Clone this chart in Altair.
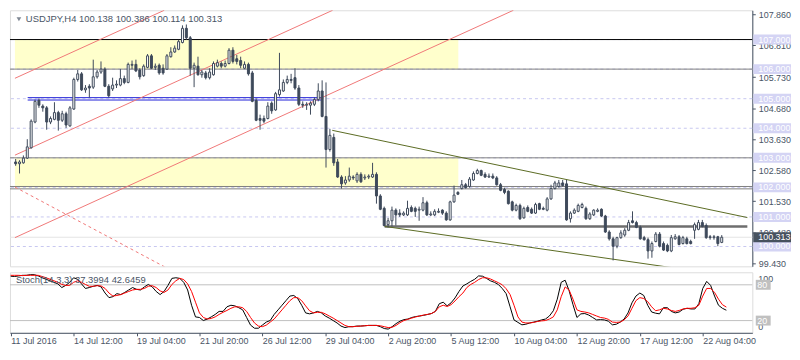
import altair as alt
import pandas as pd

# ---------------- data ----------------
bar_open = [102.86, 102.80, 102.83, 102.99, 103.34, 104.21, 104.94, 104.75, 104.69, 104.21,
 104.30, 104.53, 104.27, 104.49, 104.08, 104.65, 105.65, 105.84, 105.30, 105.42,
 105.39, 105.74, 105.90, 106.00, 105.42, 105.33, 105.46, 105.46, 105.68, 105.55,
 106.13, 106.16, 105.97, 105.78, 106.06, 106.45, 106.06, 106.13, 106.03, 106.00,
 106.42, 106.58, 106.67, 106.90, 107.38, 107.06, 106.03, 106.10, 105.81, 105.87,
 105.71, 105.81, 106.10, 106.19, 106.10, 106.19, 106.64, 106.35, 106.29, 106.03,
 106.16, 105.87, 104.94, 104.33, 104.33, 104.33, 104.85, 104.62, 105.14, 105.26,
 105.55, 105.65, 105.71, 105.36, 104.81, 104.78, 104.78, 104.81, 104.97, 105.26,
 104.40, 103.28, 103.69, 102.86, 102.35, 102.15, 102.25, 102.35, 102.22, 102.44,
 102.32, 102.35, 102.35, 102.44, 101.71, 101.29, 100.74, 100.87, 101.23, 101.13,
 101.07, 101.07, 101.32, 101.29, 101.23, 101.23, 101.48, 101.07, 101.07, 101.16,
 101.23, 101.13, 100.90, 101.51, 101.83, 101.96, 102.09, 102.03, 102.25, 102.47,
 102.57, 102.44, 102.35, 102.38, 102.32, 102.09, 101.93, 101.87, 101.51, 101.23,
 101.39, 100.97, 101.32, 101.26, 101.13, 101.45, 101.29, 101.23, 101.61, 101.96,
 102.03, 102.15, 102.12, 100.94, 101.13, 101.19, 101.32, 101.29, 100.94, 101.07,
 101.19, 101.26, 101.03, 100.49, 100.26, 100.01, 100.30, 100.39, 100.55, 100.87,
 100.81, 100.65, 100.30, 100.23, 99.85, 100.17, 100.42, 100.10, 100.04, 99.85,
 100.26, 100.33, 100.10, 100.26, 100.17, 100.55, 100.58, 100.81, 100.71, 100.33,
 100.30, 100.33, 100.138]

bar_high = [102.96, 102.92, 103.08, 103.63, 104.30, 104.97, 105.01, 104.81, 104.75, 104.40,
 104.88, 104.59, 104.59, 104.56, 104.75, 105.71, 105.97, 105.90, 105.46, 105.49,
 106.32, 105.97, 106.26, 106.06, 105.49, 105.71, 105.62, 106.00, 105.78, 106.22,
 106.29, 106.32, 106.03, 106.16, 106.51, 106.51, 106.19, 106.19, 106.16, 106.51,
 106.74, 106.80, 106.99, 107.48, 107.51, 107.12, 106.22, 106.42, 105.97, 105.94,
 106.03, 106.26, 106.32, 106.26, 106.29, 106.71, 106.74, 106.48, 106.42, 106.26,
 106.22, 105.94, 105.01, 104.46, 104.43, 104.88, 104.91, 105.23, 106.55, 105.65,
 105.78, 105.84, 106.03, 105.46, 104.91, 104.88, 104.91, 105.04, 105.52, 105.62,
 105.55, 103.98, 103.82, 102.96, 102.41, 102.38, 102.67, 102.41, 102.51, 102.51,
 102.44, 102.44, 102.83, 102.51, 101.77, 101.35, 100.97, 101.35, 101.29, 101.26,
 101.19, 101.55, 101.39, 101.35, 101.35, 101.67, 101.55, 101.19, 101.26, 101.29,
 101.26, 101.19, 101.55, 102.06, 101.87, 102.25, 102.15, 102.35, 102.54, 102.63,
 102.60, 102.51, 102.47, 102.47, 102.38, 102.15, 101.99, 101.90, 101.55, 101.45,
 101.45, 101.35, 101.39, 101.32, 101.48, 101.48, 101.35, 101.67, 102.09, 102.22,
 102.25, 102.25, 102.25, 101.19, 101.29, 101.45, 101.48, 101.35, 101.16, 101.26,
 101.29, 101.29, 101.07, 100.55, 100.33, 100.33, 100.55, 100.62, 100.90, 101.19,
 100.87, 100.71, 100.36, 100.30, 100.17, 100.49, 100.49, 100.17, 100.10, 100.39,
 100.42, 100.39, 100.36, 100.33, 100.23, 100.81, 100.90, 100.90, 100.78, 100.39,
 100.39, 100.36, 100.386]

bar_low = [102.73, 102.47, 102.80, 102.96, 103.31, 104.17, 104.69, 104.56, 103.95, 104.14,
 104.27, 103.92, 104.21, 104.01, 104.05, 104.62, 105.58, 105.26, 105.20, 105.04,
 105.33, 105.68, 105.84, 105.39, 105.04, 105.26, 105.36, 105.42, 105.49, 105.52,
 106.00, 105.90, 105.65, 105.74, 106.03, 106.00, 105.97, 105.81, 105.81, 105.97,
 106.39, 106.55, 106.64, 106.87, 106.99, 105.78, 105.39, 105.78, 105.71, 105.65,
 105.65, 105.78, 106.06, 106.03, 106.06, 106.16, 106.19, 106.16, 106.03, 106.00,
 105.78, 104.88, 104.24, 103.95, 104.17, 104.30, 104.49, 104.59, 105.07, 105.23,
 105.49, 105.52, 105.30, 104.75, 104.69, 104.62, 104.46, 104.75, 104.91, 104.37,
 102.67, 103.21, 102.73, 102.32, 101.96, 102.09, 102.19, 102.25, 102.15, 102.15,
 102.25, 102.28, 102.32, 101.45, 101.23, 100.68, 100.65, 100.68, 100.71, 101.00,
 101.03, 101.03, 101.16, 101.00, 100.87, 101.19, 101.03, 101.03, 101.03, 101.13,
 101.07, 100.87, 100.87, 101.48, 101.74, 101.93, 101.96, 101.99, 102.22, 102.44,
 102.38, 102.32, 102.32, 102.28, 102.06, 101.87, 101.77, 101.42, 101.19, 101.19,
 100.90, 100.94, 101.16, 101.10, 101.10, 101.23, 101.23, 101.19, 101.58, 101.93,
 101.99, 102.03, 100.87, 100.81, 101.10, 101.16, 101.29, 100.90, 100.90, 101.03,
 101.16, 101.00, 100.46, 100.20, 99.53, 99.94, 100.26, 100.33, 100.52, 100.78,
 100.62, 100.23, 100.20, 99.59, 99.62, 100.14, 99.97, 99.85, 99.81, 99.81,
 100.23, 100.04, 100.07, 100.07, 100.07, 100.26, 100.55, 100.65, 100.26, 100.23,
 100.23, 100.01, 100.114]

bar_close = [102.80, 102.86, 102.99, 103.37, 104.24, 104.91, 104.78, 104.69, 104.21, 104.33,
 104.53, 104.27, 104.49, 104.11, 104.69, 105.65, 105.84, 105.30, 105.36, 105.36,
 105.74, 105.90, 106.00, 105.42, 105.10, 105.46, 105.49, 105.68, 105.55, 106.16,
 106.16, 105.94, 105.74, 106.10, 106.45, 106.03, 106.10, 105.87, 105.87, 106.45,
 106.58, 106.71, 106.93, 107.38, 107.06, 106.03, 106.13, 105.81, 105.90, 105.71,
 105.90, 106.19, 106.22, 106.10, 106.19, 106.64, 106.26, 106.26, 106.13, 106.16,
 105.84, 104.91, 104.27, 104.27, 104.24, 104.75, 104.59, 105.17, 105.30, 105.55,
 105.65, 105.62, 105.36, 104.81, 104.78, 104.81, 104.85, 104.97, 105.26, 104.40,
 103.28, 103.76, 102.83, 102.35, 102.12, 102.25, 102.38, 102.32, 102.44, 102.19,
 102.35, 102.38, 102.44, 101.71, 101.26, 100.71, 100.87, 101.23, 101.07, 101.07,
 101.13, 101.29, 101.19, 101.19, 101.26, 101.48, 101.07, 101.10, 101.19, 101.19,
 101.13, 100.90, 101.51, 101.74, 101.77, 102.09, 101.99, 102.28, 102.47, 102.57,
 102.41, 102.35, 102.38, 102.32, 102.09, 101.90, 101.83, 101.45, 101.23, 101.39,
 100.94, 101.29, 101.19, 101.13, 101.42, 101.26, 101.26, 101.61, 101.96, 102.15,
 102.15, 102.06, 100.90, 101.13, 101.23, 101.39, 101.42, 100.94, 101.10, 101.23,
 101.23, 101.03, 100.49, 100.26, 100.01, 100.30, 100.46, 100.55, 100.81, 100.81,
 100.65, 100.26, 100.23, 99.85, 100.10, 100.42, 100.01, 99.88, 99.85, 100.30,
 100.33, 100.07, 100.30, 100.10, 100.10, 100.74, 100.81, 100.68, 100.30, 100.30,
 100.33, 100.10, 100.313]

stoch_k = [94.4, 93.9, 94.9, 95.9, 95.9, 97.0, 97.0, 94.9, 91.8, 89.3,
 86.7, 84.2, 81.6, 75.4, 79.0, 84.2, 91.8, 89.3, 81.6, 73.9,
 75.4, 77.5, 79.0, 76.5, 66.2, 58.5, 60.1, 65.2, 63.6, 67.2,
 71.3, 75.4, 72.4, 71.3, 76.5, 80.6, 76.5, 68.8, 63.6, 68.8,
 79.0, 90.8, 91.8, 90.8, 84.2, 71.3, 45.7, 26.2, 25.2, 20.1,
 22.6, 26.2, 30.3, 35.4, 35.4, 43.1, 45.7, 44.7, 41.6, 38.0,
 25.2, 12.4, 7.2, 7.2, 12.4, 17.5, 20.1, 30.3, 38.0, 45.7,
 53.4, 61.1, 62.1, 57.0, 45.7, 32.9, 31.3, 32.9, 35.4, 32.9,
 27.7, 24.2, 20.1, 16.0, 10.8, 8.3, 9.8, 9.8, 10.8, 10.8,
 11.3, 11.9, 11.9, 11.9, 9.8, 6.7, 5.7, 9.8, 14.9, 19.0,
 21.6, 22.6, 25.2, 26.7, 27.7, 28.8, 30.3, 31.8, 35.4, 48.3,
 50.8, 44.7, 49.8, 58.0, 68.8, 78.0, 81.6, 85.7, 89.3, 94.9,
 94.4, 90.8, 86.7, 84.2, 80.6, 73.9, 65.2, 43.1, 21.1, 17.0,
 12.9, 13.9, 16.0, 17.5, 19.0, 21.1, 22.6, 27.7, 36.5, 55.9,
 84.2, 87.7, 70.3, 46.7, 25.2, 31.3, 31.8, 29.3, 25.2, 21.1,
 21.6, 21.1, 19.0, 12.9, 13.9, 17.5, 22.6, 32.9, 49.8, 61.1,
 66.2, 62.1, 45.7, 34.4, 32.4, 31.3, 41.6, 41.6, 35.4, 32.9,
 34.4, 39.0, 40.6, 39.5, 39.5, 48.3, 73.9, 85.7, 79.0, 61.1,
 45.7, 40.6, 37.3994]

stoch_d = [95.9, 95.9, 95.9, 95.4, 95.9, 95.9, 95.9, 95.9, 93.9, 91.8,
 89.3, 86.7, 84.2, 80.6, 79.0, 79.0, 84.2, 86.7, 84.2, 80.6,
 77.5, 77.5, 78.5, 78.0, 73.9, 66.2, 61.1, 62.1, 63.6, 66.2,
 68.8, 71.3, 72.4, 72.4, 73.9, 77.5, 78.5, 75.4, 69.8, 67.2,
 71.3, 80.6, 86.7, 90.8, 88.8, 81.6, 68.8, 50.8, 32.9, 25.2,
 22.6, 23.6, 26.2, 30.3, 33.9, 37.0, 40.6, 43.1, 43.1, 41.6,
 35.4, 25.2, 16.0, 10.8, 9.8, 12.4, 17.5, 22.6, 30.3, 38.0,
 45.7, 53.4, 58.5, 58.5, 53.4, 44.7, 36.5, 32.9, 33.9, 33.9,
 31.3, 27.7, 24.2, 20.1, 16.0, 11.9, 9.8, 9.8, 10.3, 10.8,
 11.3, 11.9, 11.9, 11.9, 11.3, 9.8, 8.3, 8.8, 11.9, 16.5,
 20.1, 22.1, 24.2, 26.2, 27.7, 29.3, 30.3, 31.8, 35.4, 43.1,
 45.7, 43.6, 46.7, 52.9, 60.1, 66.2, 75.4, 80.6, 84.2, 88.8,
 91.8, 91.8, 89.8, 86.7, 83.6, 80.1, 73.4, 63.6, 45.7, 26.2,
 17.5, 16.0, 16.0, 17.0, 18.5, 19.5, 20.1, 22.6, 26.2, 38.0,
 60.1, 76.5, 71.3, 55.9, 38.0, 35.4, 34.4, 32.9, 30.3, 27.7,
 25.2, 24.2, 22.1, 17.5, 17.0, 17.5, 21.1, 27.7, 40.6, 53.4,
 58.5, 57.0, 51.8, 43.1, 36.5, 38.0, 40.6, 39.5, 37.0, 35.4,
 37.0, 39.5, 40.6, 40.6, 41.6, 45.7, 61.1, 73.9, 73.9, 67.2,
 55.9, 46.7, 42.6459]

x_tick_index = [0, 16, 32, 48, 64, 80, 96, 112, 128, 144, 160, 176]
x_tick_labels = ["11 Jul 2016", "14 Jul 12:00", "19 Jul 04:00", "21 Jul 20:00",
                 "26 Jul 12:00", "29 Jul 04:00", "2 Aug 20:00", "5 Aug 12:00",
                 "10 Aug 04:00", "12 Aug 20:00", "17 Aug 12:00", "22 Aug 04:00"]

price_axis_values = [107.86, 106.81, 105.73, 104.68, 103.63, 102.58, 101.53, 100.48, 99.43]
level_prices = [107.0, 106.0, 105.0, 104.0, 103.0, 102.0, 101.0, 100.0]
level_labels = ["107.000", "106.000", "105.000", "104.000", "103.000", "102.000", "101.000", "100.000"]

zone_top = [107.0, 103.0]
zone_bottom = [106.0, 102.0]
zone_start = [-0.18, -0.18]
zone_end = [114.1, 114.1]

solid_prices = [107.0, 106.0, 103.0, 102.03, 101.95]
solid_colors = ["#000000", "#808080", "#808080", "#808080", "#808080"]

support_price = [100.68]
support_start = [95.1]
support_end = [188.6]

blue_prices = [105.035, 104.955]
blue_start = [3.1, 3.1]
blue_end = [78.8, 78.8]

red_id = [1, 1, 2, 2, 3, 3]
red_i = [-0.18, 38.3, -0.18, 81.7, -0.18, 128.3]
red_p = [105.69, 107.99, 103.09, 107.99, 100.30, 107.99]

reddash_i = [-0.18, 40.0]
reddash_p = [102.01, 99.20]

olive_id = [1, 1, 2, 2]
olive_i = [81.6, 188.6, 95.1, 170.0]
olive_p = [103.93, 100.98, 100.68, 99.27]

stoch_levels = [80, 20]

# ---------------- layout / style ----------------
W = 748
H1 = 258
H2 = 61
DARK = "#3e4a5b"
AXC = "#4a5566"
FONT = "Liberation Sans"

xs = alt.Scale(domain=[-0.18, 188.6], nice=False, zero=False)
ys = alt.Scale(domain=[99.33, 107.99], nice=False, zero=False)
ks = alt.Scale(domain=[-0.5, 101], nice=False, zero=False)

MAIN_AXIS = alt.Axis(orient="right", values=price_axis_values, format=".3f", title=None,
                     grid=False, tickSize=3, tickColor=AXC, domainColor=AXC,
                     labelColor=AXC, labelFont=FONT, labelFontSize=9, labelPadding=3)


def X(f):
    return alt.X(f, scale=xs, axis=None)


def Y(f):
    return alt.Y(f, scale=ys, axis=MAIN_AXIS)


n = len(bar_open)
candles = pd.DataFrame({"i": list(range(n)), "o": bar_open, "h": bar_high,
                        "l": bar_low, "c": bar_close})
candles["dir"] = ["up" if c >= o else "down" for o, c in zip(bar_open, bar_close)]

zones = pd.DataFrame({"a": zone_start, "b": zone_end, "t": zone_top, "u": zone_bottom})
levels = pd.DataFrame({"p": level_prices, "lab": level_labels})
solids = pd.DataFrame({"p": solid_prices, "col": solid_colors})
support = pd.DataFrame({"p": support_price, "a": support_start, "b": support_end})
blues = pd.DataFrame({"p": blue_prices, "a": blue_start, "b": blue_end})
reds = pd.DataFrame({"id": red_id, "i": red_i, "p": red_p})
reddash = pd.DataFrame({"i": reddash_i, "p": reddash_p})
olives = pd.DataFrame({"id": olive_id, "i": olive_i, "p": olive_p})
last = pd.DataFrame({"p": [bar_close[-1]], "lab": ["%.3f" % bar_close[-1]]})

header_text = "USDJPY,H4  %.3f %.3f %.3f %.3f" % (bar_open[-1], bar_high[-1], bar_low[-1], bar_close[-1])

zone_layer = alt.Chart(zones).mark_rect(color="#ffffcc").encode(
    x=X("a:Q"), x2="b:Q", y=Y("t:Q"), y2="u:Q")
dash_layer = alt.Chart(levels).mark_rule(color="#c8c8f0", strokeDash=[3, 3], strokeWidth=1).encode(
    y=Y("p:Q"))
solid_layer = alt.Chart(solids).mark_rule(strokeWidth=1).encode(
    y=Y("p:Q"), color=alt.Color("col:N", scale=None))
cur_layer = alt.Chart(last).mark_rule(color="#e4e4e4", strokeWidth=1).encode(y=Y("p:Q"))
support_layer = alt.Chart(support).mark_rule(color="#6e6e6e", strokeWidth=2.5).encode(
    x=X("a:Q"), x2="b:Q", y=Y("p:Q"))
blue_layer = alt.Chart(blues).mark_rule(color="#0a0ad2", strokeWidth=0.9).encode(
    x=X("a:Q"), x2="b:Q", y=Y("p:Q"))
red_layer = alt.Chart(reds).mark_line(color="#f07878", strokeWidth=1, clip=True).encode(
    x=X("i:Q"), y=Y("p:Q"), detail="id:N")
reddash_layer = alt.Chart(reddash).mark_line(color="#f07878", strokeWidth=1, strokeDash=[3, 3], clip=True).encode(
    x=X("i:Q"), y=Y("p:Q"))
olive_layer = alt.Chart(olives).mark_line(color="#5b6b22", strokeWidth=1, clip=True).encode(
    x=X("i:Q"), y=Y("p:Q"), detail="id:N")
wick_layer = alt.Chart(candles).mark_rule(color=DARK, strokeWidth=1).encode(
    x=X("i:Q"), y=Y("l:Q"), y2="h:Q")
body_layer = alt.Chart(candles).mark_bar(size=2, stroke=DARK, strokeWidth=1).encode(
    x=X("i:Q"), y=Y("o:Q"), y2="c:Q",
    fill=alt.Fill("dir:N", scale=alt.Scale(domain=["up", "down"], range=["#ffffff", DARK]), legend=None))
tri_layer = alt.Chart(last).mark_point(shape="triangle-down", filled=True, size=22, color=AXC).encode(
    x=alt.value(9), y=alt.value(9))
head_layer = alt.Chart(last).mark_text(align="left", baseline="middle", font=FONT, fontSize=9.5,
                                       color=AXC, text=header_text).encode(
    x=alt.value(16), y=alt.value(9))
lvl_box = alt.Chart(levels).mark_tick(orient="horizontal", size=38, thickness=10, color="#d4d4f4", opacity=1).encode(
    x=alt.value(W + 20), y=Y("p:Q"))
lvl_txt = alt.Chart(levels).mark_text(align="left", baseline="middle", font=FONT, fontSize=9, color="#ffffff").encode(
    x=alt.value(W + 6), y=Y("p:Q"), text="lab:N")
cur_box = alt.Chart(last).mark_tick(orient="horizontal", size=38, thickness=10, color="#47525f", opacity=1).encode(
    x=alt.value(W + 20), y=Y("p:Q"))
cur_txt = alt.Chart(last).mark_text(align="left", baseline="middle", font=FONT, fontSize=9, color="#ffffff").encode(
    x=alt.value(W + 6), y=Y("p:Q"), text="lab:N")

main = alt.layer(zone_layer, dash_layer, solid_layer, cur_layer, support_layer, blue_layer,
                 red_layer, reddash_layer, olive_layer, wick_layer, body_layer,
                 tri_layer, head_layer, lvl_box, lvl_txt, cur_box, cur_txt).properties(width=W, height=H1)

# ---------------- stochastic panel ----------------
sto = pd.DataFrame({"i": list(range(len(stoch_k))), "k": stoch_k, "d": stoch_d})
label_expr = "[" + ",".join("'%s'" % s for s in x_tick_labels) + "][round(datum.value/16)]"
XAX = alt.Axis(values=x_tick_index, labelExpr=label_expr, title=None, grid=False,
               tickSize=3, tickColor=AXC, domainColor=AXC, labelColor=AXC, labelFont=FONT,
               labelFontSize=9, labelAlign="left", labelFlush=False, labelPadding=1,
               labelOverlap=False, labelBaseline="top")


def SX(f):
    return alt.X(f, scale=xs, axis=XAX)


def SY(f):
    return alt.Y(f, scale=ks, axis=None)


lv = pd.DataFrame({"v": stoch_levels, "lab": [str(v) for v in stoch_levels]})
ends = pd.DataFrame({"v": [100, 0], "lab": ["100", "0"]})
sto_title = "Stoch(14,3,3) %.4f %.4f" % (stoch_k[-1], stoch_d[-1])

lvl_rule = alt.Chart(lv).mark_rule(color="#c0c0c0", strokeWidth=1).encode(y=SY("v:Q"))
k_line = alt.Chart(sto).mark_line(color="#000000", strokeWidth=1).encode(x=SX("i:Q"), y=SY("k:Q"))
d_line = alt.Chart(sto).mark_line(color="#ff0000", strokeWidth=1).encode(x=SX("i:Q"), y=SY("d:Q"))
s_title = alt.Chart(lv.head(1)).mark_text(align="left", baseline="middle", font=FONT, fontSize=9.5,
                                          color=AXC, text=sto_title).encode(x=alt.value(6), y=alt.value(8))
top_txt = alt.Chart(ends.head(1)).mark_text(align="left", baseline="middle", font=FONT, fontSize=9,
                                            color=AXC, dy=6).encode(x=alt.value(W + 6), y=SY("v:Q"), text="lab:N")
bot_txt = alt.Chart(ends.tail(1)).mark_text(align="left", baseline="middle", font=FONT, fontSize=9,
                                            color=AXC, dy=-6).encode(x=alt.value(W + 6), y=SY("v:Q"), text="lab:N")
s_box = alt.Chart(lv).mark_tick(orient="horizontal", size=15, thickness=10, color="#c0c0c0", opacity=1).encode(
    x=alt.value(W + 11), y=SY("v:Q"))
s_txt = alt.Chart(lv).mark_text(align="left", baseline="middle", font=FONT, fontSize=9, color="#ffffff").encode(
    x=alt.value(W + 5), y=SY("v:Q"), text="lab:N")

stoch = alt.layer(lvl_rule, k_line, d_line, s_title, top_txt, bot_txt, s_box, s_txt).properties(width=W, height=H2)

chart = alt.vconcat(main, stoch, spacing=2).resolve_scale(x="independent", y="independent").properties(
    padding=0).configure_view(stroke=AXC, strokeWidth=1).configure(background="#ffffff")

chart.save("out.html", embed_options={"renderer": "svg", "actions": False})
